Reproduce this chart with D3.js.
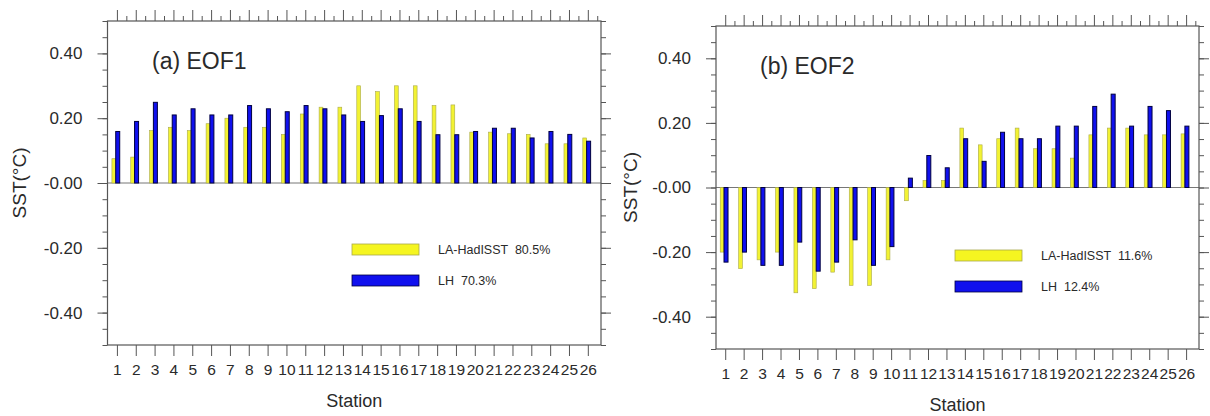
<!DOCTYPE html>
<html><head><meta charset="utf-8">
<script src="https://cdn.jsdelivr.net/npm/d3@7"></script>
<style>
html,body{margin:0;padding:0;background:#fff;}
svg{display:block;font-family:"Liberation Sans",Arial,Helvetica,sans-serif;}
</style></head>
<body>
<svg id="chart" width="1210" height="416"></svg>
<script>
// ---- data ----
const stations = ["1","2","3","4","5","6","7","8","9","10","11","12","13","14","15","16","17","18","19","20","21","22","23","24","25","26"];
const yTickValues = [0.4, 0.2, 0, -0.2, -0.4];
const yTickLabels = ["0.40", "0.20", "-0.00", "-0.20", "-0.40"];
const eof1Had = [0.075,0.08,0.162,0.172,0.162,0.183,0.2,0.172,0.172,0.15,0.213,0.234,0.234,0.30,0.282,0.30,0.30,0.239,0.241,0.157,0.157,0.152,0.15,0.121,0.121,0.139];
const eof1LH  = [0.159,0.19,0.249,0.21,0.229,0.21,0.21,0.239,0.229,0.22,0.239,0.229,0.21,0.19,0.208,0.229,0.19,0.149,0.149,0.159,0.169,0.169,0.139,0.159,0.15,0.129];
const eof2Had = [-0.20,-0.251,-0.224,-0.20,-0.326,-0.313,-0.262,-0.303,-0.303,-0.224,-0.041,0.022,0.022,0.184,0.132,0.151,0.184,0.12,0.12,0.091,0.163,0.184,0.184,0.163,0.163,0.166];
const eof2LH  = [-0.231,-0.20,-0.241,-0.241,-0.169,-0.259,-0.231,-0.162,-0.241,-0.183,0.029,0.099,0.061,0.151,0.081,0.171,0.151,0.151,0.19,0.19,0.251,0.289,0.19,0.251,0.238,0.19];
const panelTitles = ["(a) EOF1", "(b) EOF2"];
const legendHad = ["LA-HadISST  80.5%", "LA-HadISST  11.6%"];
const legendLH = ["LH  70.3%", "LH  12.4%"];

const panels = [
  {box:{l:107.5,r:601,t:21,b:345}, had:eof1Had, lh:eof1LH, title:panelTitles[0], lh0:legendHad[0], lh1:legendLH[0],
   titlePos:[152,69], legPos:[352,244], ylabX:19},
  {box:{l:716,r:1199,t:26,b:349}, had:eof2Had, lh:eof2LH, title:panelTitles[1], lh0:legendHad[1], lh1:legendLH[1],
   titlePos:[760,74], legPos:[955,250], ylabX:630}
];

const svg = d3.select("#chart");
const textCol = "#2a2a2a", axisCol = "#555";

panels.forEach(p => {
  const B = p.box;
  const x = d3.scaleLinear().domain([0.5, 26.7]).range([B.l, B.r]);
  const y = d3.scaleLinear().domain([-0.5, 0.5]).range([B.b, B.t]);
  const g = svg.append("g");
  const pos = stations.map((s,i)=>i+1);

  // zero line
  g.append("line").attr("x1",B.l).attr("x2",B.r).attr("y1",y(0)).attr("y2",y(0))
    .attr("stroke","#777").attr("stroke-width",1);

  // bars
  g.selectAll("rect.had").data(p.had).join("rect").attr("class","had")
    .attr("x",(d,i)=>x(pos[i])-5).attr("width",3.8)
    .attr("y",d=>y(Math.max(d,0))).attr("height",d=>Math.abs(y(d)-y(0)))
    .attr("fill","#f2f233").attr("stroke","#a9a94a").attr("stroke-width",0.6);
  g.selectAll("rect.lh").data(p.lh).join("rect").attr("class","lh")
    .attr("x",(d,i)=>x(pos[i])-1.2).attr("width",4)
    .attr("y",d=>y(Math.max(d,0))).attr("height",d=>Math.abs(y(d)-y(0)))
    .attr("fill","#1010ee").attr("stroke","#000040").attr("stroke-width",1);

  function styleAxis(sel){
    sel.select(".domain").remove();
    sel.selectAll(".tick line").attr("stroke",axisCol).attr("stroke-width",1);
    sel.selectAll(".tick text").attr("fill",textCol).style("font-family","'Liberation Sans',Arial,sans-serif");
  }
  const halfTicks = d3.range(1, 27).map(v=>v+0.5).filter(v=>v<26.7);
  const minorY = d3.range(-0.5, 0.5001, 0.05).map(v=>+v.toFixed(2));

  // bottom
  g.append("g").attr("transform",`translate(0,${B.b})`)
    .call(d3.axisBottom(x).tickValues(pos).tickFormat((d,i)=>stations[i]).tickSize(11).tickPadding(8).tickSizeOuter(0))
    .call(styleAxis).call(s=>s.selectAll(".tick text").style("font-size","15.5px"));
  // top
  g.append("g").attr("transform",`translate(0,${B.t})`)
    .call(d3.axisTop(x).tickValues(pos).tickFormat("").tickSize(11).tickSizeOuter(0)).call(styleAxis);
  g.append("g").attr("transform",`translate(0,${B.t})`)
    .call(d3.axisTop(x).tickValues(halfTicks).tickFormat("").tickSize(5).tickSizeOuter(0)).call(styleAxis);
  // left
  g.append("g").attr("transform",`translate(${B.l},0)`)
    .call(d3.axisLeft(y).tickValues(minorY).tickFormat("").tickSize(5).tickSizeOuter(0)).call(styleAxis);
  g.append("g").attr("transform",`translate(${B.l},0)`)
    .call(d3.axisLeft(y).tickValues(yTickValues).tickFormat((d,i)=>yTickLabels[i]).tickSize(10).tickPadding(15).tickSizeOuter(0))
    .call(styleAxis).call(s=>s.selectAll(".tick text").style("font-size","17px"));
  // right
  g.append("g").attr("transform",`translate(${B.r},0)`)
    .call(d3.axisRight(y).tickValues(minorY).tickFormat("").tickSize(5).tickSizeOuter(0)).call(styleAxis);
  g.append("g").attr("transform",`translate(${B.r},0)`)
    .call(d3.axisRight(y).tickValues(yTickValues).tickFormat("").tickSize(10).tickSizeOuter(0)).call(styleAxis);

  // frame
  g.append("rect").attr("x",B.l).attr("y",B.t).attr("width",B.r-B.l).attr("height",B.b-B.t)
    .attr("fill","none").attr("stroke",axisCol).attr("stroke-width",1.2);

  // title
  g.append("text").attr("x",p.titlePos[0]).attr("y",p.titlePos[1]).text(p.title)
    .attr("fill",textCol).style("font-size","23px");

  // axis titles
  g.append("text").attr("x",(B.l+B.r)/2).attr("y",B.b+62).attr("text-anchor","middle")
    .text("Station").attr("fill",textCol).style("font-size","18px");
  g.append("text").attr("transform",`translate(${p.ylabX},${y(0)}) rotate(-90)`).attr("text-anchor","middle")
    .attr("dy","0.35em").text("SST(°C)").attr("fill",textCol).style("font-size","19px");

  // legend
  const [lx, ly] = p.legPos;
  g.append("rect").attr("x",lx).attr("y",ly).attr("width",67).attr("height",11)
    .attr("fill","#f5f520").attr("stroke","#a9a94a").attr("stroke-width",0.8);
  g.append("rect").attr("x",lx).attr("y",ly+31).attr("width",67).attr("height",11)
    .attr("fill","#1010ee").attr("stroke","#000040").attr("stroke-width",0.8);
  g.append("text").attr("x",lx+86).attr("y",ly+5.5).attr("dy","0.35em").text(p.lh0)
    .attr("fill",textCol).style("font-size","12.5px").style("white-space","pre").attr("xml:space","preserve");
  g.append("text").attr("x",lx+86).attr("y",ly+36.5).attr("dy","0.35em").text(p.lh1)
    .attr("fill",textCol).style("font-size","12.5px").style("white-space","pre").attr("xml:space","preserve");
});
</script>
</body></html>
